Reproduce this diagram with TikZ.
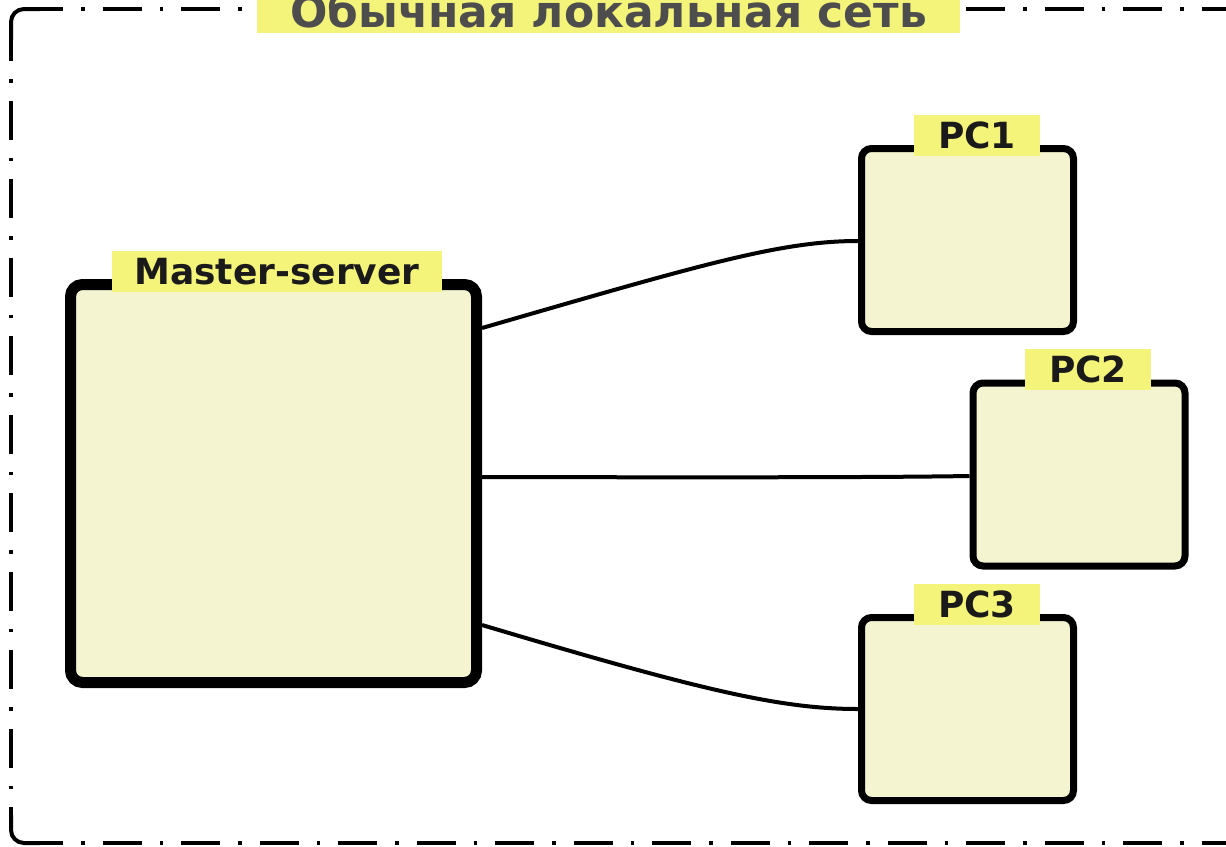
\documentclass[tikz,border=0pt]{standalone}
\usepackage{fontspec}
\setmainfont{DejaVu Sans}
\definecolor{labelyellow}{HTML}{F4F47A}
\definecolor{boxfill}{HTML}{F4F5D0}
\definecolor{labeltext}{HTML}{1A1A1A}
\definecolor{titletext}{HTML}{4D4D4D}
\tikzset{
  framesolid/.style={line width=4pt, black},
  framedash/.style={line width=4pt, black, dash pattern=on 39pt off 18pt on 3.5pt off 18pt},
  serverbox/.style={draw=black, fill=boxfill, line width=11pt, rounded corners=12pt, minimum width=406pt, minimum height=398pt, inner sep=0pt},
  pcbox/.style={draw=black, fill=boxfill, line width=7pt, rounded corners=10pt, minimum width=212pt, minimum height=183pt, inner sep=0pt},
  tag/.style={fill=labelyellow, inner sep=0pt, minimum height=41pt, text=labeltext, font=\fontsize{36}{42}\selectfont\bfseries},
  titletag/.style={fill=labelyellow, inner sep=0pt, minimum height=46pt, minimum width=703pt, text=titletext, font=\fontsize{44}{52}\selectfont\bfseries},
  wire/.style={line width=4pt, black}
}
\begin{document}
\begin{tikzpicture}[x=1pt, y=-1pt]
\useasboundingbox (0,0) rectangle (1226,846);
% outer frame
\draw[framesolid, rounded corners=13pt] (11,40) -- (11,9) -- (40,9);
\draw[framesolid, rounded corners=13pt] (11,815) -- (11,843) -- (40,843);
\draw[framedash] (11,22) -- (11,830);
\draw[framedash] (24,9) -- (1260,9);
\draw[framedash] (24,843) -- (1260,843);
\node[titletag] (title) at (608.5,10) {Обычная локальная сеть};
% boxes
\node[serverbox] (master) at (273.5,483.5) {};
\node[pcbox] (pc1) at (967.5,240) {};
\node[pcbox] (pc2) at (1079,474.5) {};
\node[pcbox] (pc3) at (967.5,709) {};
% labels
\node[tag, minimum width=330pt] (mlabel) at (277,271.5) {Master-server};
\node[tag, minimum width=126pt] (l1) at (977,135.5) {PC1};
\node[tag, minimum width=126pt] (l2) at (1088,369.5) {PC2};
\node[tag, minimum width=126pt] (l3) at (977,604.5) {PC3};
% connectors
\draw[wire] (master.east |- 0,328) .. controls (700,265) and (780,241) .. (pc1.west |- 0,241);
\draw[wire] (master.east |- 0,477) .. controls (700,477.5) and (880,477.5) .. (pc2.west |- 0,476);
\draw[wire] (master.east |- 0,625) .. controls (700,690) and (780,709) .. (pc3.west |- 0,709);
\end{tikzpicture}
\end{document}
